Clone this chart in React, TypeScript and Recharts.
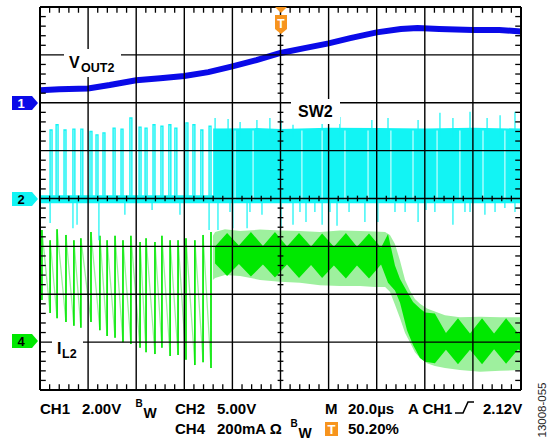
import React from "react";
import { ComposedChart, Line, Area, XAxis, YAxis, ReferenceLine } from "recharts";

// x: time in µs (20 µs/div, trigger at centre); y: graticule divisions (0 = bottom, 8 = top)
const timeDomain: [number, number] = [-100, 100];
const divDomain: [number, number] = [0, 8];

// ---------- CH1 : VOUT2 ----------
const voutTime = [-100, -92, -80, -71, -60, -50, -40, -30, -20, -10, 0, 10, 20, 29, 40, 50, 57, 66, 80, 91, 100];
const voutLevel = [6.26, 6.28, 6.3, 6.37, 6.47, 6.51, 6.56, 6.64, 6.76, 6.89, 7.04, 7.14, 7.24, 7.35, 7.47, 7.54, 7.56, 7.54, 7.52, 7.52, 7.49];

// ---------- CH2 : SW2 ----------
const swBase = 4.0;
const swBandTime = [-100, 100];
const swBandLow = [3.9, 3.9];
const swBandHigh = [4.07, 4.07];
// discrete switching pulses (PFM region)
const swPulseTime = [-95.8, -93.3, -90.0, -86.3, -83.0, -79.2, -76.7, -73.8, -69.6, -66.3, -62.6, -58.8, -56.3, -53.0, -49.7, -46.4, -43.9, -39.3, -36.4, -33.1, -29.7];
const swPulseTop = [5.43, 5.54, 5.43, 5.45, 5.45, 5.4, 5.33, 5.37, 5.47, 5.45, 5.68, 5.49, 5.47, 5.54, 5.51, 5.54, 5.47, 5.58, 5.54, 5.43, 5.51];
const swPulseWidth = 0.8;
// continuous switching region (PWM)
const swDenseTime = [-28, -10, 0, 20, 40, 60, 80, 100];
const swDenseTop = [5.46, 5.47, 5.45, 5.48, 5.47, 5.46, 5.48, 5.46];
const swSpikeUpTime = [-27.2, -21.8, -16.8, -9.8, -4.4, 0.2, 5.2, 17.3, 24.7, 38.0, 44.7, 57.2, 66.3, 71.7, 78.8, 85.9, 91.3, 97.5];
const swSpikeUpTop = [5.68, 5.66, 5.6, 5.64, 5.68, 5.64, 5.54, 5.6, 5.7, 5.64, 5.68, 5.64, 5.79, 5.68, 5.81, 5.68, 5.74, 5.81];
const swSpikeDownTime = [-95.8, -86.3, -84.6, -75.5, -64.7, -53.4, -41.8, -29.7, -26.0, -21.0, -19.8, -13.9, -12.7, -7.7, 0.2, 5.2, 8.1, 10.6, 14.3, 17.3, 20.6, 23.5, 28.5, 35.1, 40.5, 47.6, 51.8, 57.2, 60.5, 64.2, 71.7, 76.7, 78.8, 85.0, 89.2, 93.3, 97.5];
const swSpikeDownBottom = [3.49, 3.38, 3.45, 3.13, 3.66, 3.76, 3.66, 3.34, 3.34, 3.72, 3.38, 3.38, 3.72, 3.66, 3.38, 3.45, 3.72, 3.51, 3.72, 3.45, 3.72, 3.43, 3.72, 3.51, 3.51, 3.72, 3.72, 3.51, 3.76, 3.72, 3.45, 3.72, 3.72, 3.66, 3.72, 3.8, 3.72];
const swGapTime = [-18.9, -11.4, 8.9, 17.3, 26.8, 36.4, 45.9, 55.1, 65.1, 74.6, 84.2, 93.3];
const swGapLow = 3.98;
const swGapHigh = 5.42;

// ---------- CH4 : IL2 ----------
// sawtooth pulses in the PFM region
const ilPulseTime = [-99.2, -95.8, -92.9, -89.2, -85.9, -83.0, -78.8, -75.1, -72.1, -68.8, -65.5, -62.2, -58.4, -55.9, -52.2, -49.3, -45.9, -42.6, -39.3, -35.6, -32.2, -28.9];
const ilPulseTop = [3.34, 3.13, 3.36, 3.24, 3.13, 3.17, 3.3, 3.22, 3.13, 3.22, 3.13, 3.22, 3.09, 3.17, 3.09, 3.22, 3.13, 3.13, 3.17, 3.13, 3.24, 3.3];
const ilPulseLow = [1.88, 1.61, 1.5, 1.42, 1.34, 1.3, 1.42, 1.25, 1.13, 1.09, 1.0, 0.96, 0.88, 0.79, 0.75, 0.88, 0.71, 0.73, 0.63, 0.52, 0.58, 0.46];
// ripple envelope in the PWM region
const ilEnvTime = [-28.1, -27.2, -23.1, -16.8, -8.5, -0.2, 8.1, 16.4, 24.7, 33.1, 39.3, 43.5, 45.5, 47.6, 49.7, 51.8, 53.8, 55.9, 58.0, 60.9, 64.2, 68.4, 74.6, 83.0, 91.3, 100];
const ilEnvLow = [2.3, 2.34, 2.4, 2.38, 2.3, 2.26, 2.24, 2.19, 2.17, 2.17, 2.15, 2.15, 2.05, 1.78, 1.5, 1.19, 1.0, 0.79, 0.67, 0.56, 0.5, 0.46, 0.42, 0.38, 0.4, 0.42];
const ilEnvHigh = [3.22, 3.3, 3.36, 3.32, 3.35, 3.33, 3.32, 3.3, 3.33, 3.32, 3.31, 3.3, 3.24, 3.05, 2.7, 2.3, 2.08, 1.9, 1.8, 1.7, 1.64, 1.56, 1.52, 1.53, 1.52, 1.52];
// dense beat pattern core
const ilCoreTime = [-27.2, -22.2, -17.3, -12.3, -7.3, -2.3, 2.7, 7.7, 12.7, 17.3, 22.2, 27.2, 31.8, 36.8, 41.8, 44.7, 47.6, 49.7, 52.6, 55.1, 58.0, 60.1, 64.2, 68.8, 73.8, 78.8, 83.8, 88.8, 93.8, 98.8, 100];
const ilCoreLow = [2.64, 2.38, 2.63, 2.37, 2.62, 2.35, 2.62, 2.34, 2.61, 2.34, 2.6, 2.33, 2.6, 2.33, 2.62, 2.24, 2.08, 1.82, 1.25, 0.94, 0.67, 0.59, 0.56, 0.84, 0.54, 0.84, 0.54, 0.85, 0.55, 0.85, 0.8];
const ilCoreHigh = [3.0, 3.28, 3.02, 3.3, 3.01, 3.3, 3.0, 3.28, 3.0, 3.27, 2.99, 3.28, 2.99, 3.27, 2.97, 3.26, 2.6, 2.32, 2.06, 1.84, 1.7, 1.62, 1.6, 1.19, 1.5, 1.18, 1.5, 1.18, 1.5, 1.18, 1.22];

// ---------- data tables for the library ----------
const voutData = voutTime.map((t, i) => ({ t, y: voutLevel[i] }));
const swBandData = swBandTime.map((t, i) => ({ t, v: [swBandLow[i], swBandHigh[i]] }));
const swPulseData = [
  { t: -100, y: swBase },
  ...swPulseTime.flatMap((t, i) => [
    { t, y: swBase },
    { t, y: swPulseTop[i] },
    { t: t + swPulseWidth, y: swPulseTop[i] },
    { t: t + swPulseWidth, y: swBase },
  ]),
  { t: -28, y: swBase },
];
const swDenseData = swDenseTime.map((t, i) => ({ t, v: [swBase - 0.08, swDenseTop[i]] }));
const segs = (ts: number[], a: number[] | number, b: number[] | number) =>
  ts.flatMap((t, i) => [
    { t, y: Array.isArray(a) ? a[i] : a },
    { t, y: Array.isArray(b) ? b[i] : b },
    { t, y: null as number | null },
  ]);
const swUpData = segs(swSpikeUpTime, swBase + 1.3, swSpikeUpTop);
const swDownData = segs(swSpikeDownTime, swBase, swSpikeDownBottom);
const swGapData = segs(swGapTime, swGapLow, swGapHigh);
const ilSawData = ilPulseTime.flatMap((t, i) => [
  { t, y: ilPulseLow[i] },
  { t, y: ilPulseTop[i] },
]);
const ilEdgeData = segs(ilPulseTime, ilPulseLow, ilPulseTop);
const ilEnvData = ilEnvTime.map((t, i) => ({ t, v: [ilEnvLow[i], ilEnvHigh[i]] }));
const ilCoreData = ilCoreTime.map((t, i) => ({ t, v: [ilCoreLow[i], ilCoreHigh[i]] }));

// graticule
const majorX = [-80, -60, -40, -20, 0, 20, 40, 60, 80];
const majorY = [1, 2, 3, 4, 5, 6, 7];
const minorX: number[] = [];
for (let t = -96; t < 100; t += 4) if (t % 20 !== 0) minorX.push(t);
const minorY: number[] = [];
for (let k = 1; k < 40; k++) if (k % 5 !== 0) minorY.push(+(k * 0.2).toFixed(2));

const BLUE = "#0a0ae8";
const CYAN = "#12f4f4";
const GREEN = "#00e800";
const LGREEN = "#9ef09e";
const ORANGE = "#f7941d";
const FONT = "'Liberation Sans', Arial, Helvetica, sans-serif";

export default function App() {
  const tk = { stroke: "#000", strokeWidth: 1.3 };
  return (
    <div style={{ position: "absolute", left: 0, top: 0, width: 553, height: 442, background: "#fff" }}>
      <ComposedChart width={553} height={442} margin={{ top: 7, right: 32, bottom: 52, left: 40 }}>
        <XAxis type="number" dataKey="t" domain={timeDomain} hide allowDataOverflow />
        <YAxis type="number" domain={divDomain} hide allowDataOverflow />

        <Area data={ilEnvData} dataKey="v" type="linear" stroke="none" fill={LGREEN} fillOpacity={1} isAnimationActive={false} activeDot={false} />
        <Area data={ilCoreData} dataKey="v" type="linear" stroke="none" fill={GREEN} fillOpacity={1} isAnimationActive={false} activeDot={false} />
        <Area data={swBandData} dataKey="v" type="linear" stroke="none" fill={CYAN} fillOpacity={1} isAnimationActive={false} activeDot={false} />
        <Area data={swDenseData} dataKey="v" type="linear" stroke="none" fill={CYAN} fillOpacity={1} isAnimationActive={false} activeDot={false} />

        <Line data={ilSawData} dataKey="y" type="linear" stroke={LGREEN} strokeWidth={1.3} dot={false} activeDot={false} isAnimationActive={false} />
        <Line data={ilEdgeData} dataKey="y" type="linear" stroke={GREEN} strokeWidth={1.6} dot={false} activeDot={false} isAnimationActive={false} />
        <Line data={swPulseData} dataKey="y" type="linear" stroke={CYAN} strokeWidth={1.4} dot={false} activeDot={false} isAnimationActive={false} />
        <Line data={swUpData} dataKey="y" type="linear" stroke={CYAN} strokeWidth={1.2} dot={false} activeDot={false} isAnimationActive={false} />
        <Line data={swDownData} dataKey="y" type="linear" stroke={CYAN} strokeWidth={1.2} dot={false} activeDot={false} isAnimationActive={false} />
        <Line data={swGapData} dataKey="y" type="linear" stroke="#c8ffff" strokeWidth={1.2} dot={false} activeDot={false} isAnimationActive={false} />
        <Line data={voutData} dataKey="y" type="linear" stroke={BLUE} strokeWidth={6} dot={false} activeDot={false} isAnimationActive={false} />

        {majorX.map((x) => (
          <ReferenceLine key={"gx" + x} x={x} stroke="#000" strokeWidth={1.4} />
        ))}
        {majorY.map((y) => (
          <ReferenceLine key={"gy" + y} y={y} stroke="#000" strokeWidth={1.4} />
        ))}
        <ReferenceLine x={-100} stroke="#000" strokeWidth={2} />
        <ReferenceLine x={100} stroke="#000" strokeWidth={2} />
        <ReferenceLine y={0} stroke="#000" strokeWidth={2} />
        <ReferenceLine y={8} stroke="#000" strokeWidth={2} />
        {minorX.map((t) => (
          <ReferenceLine key={"tt" + t} segment={[{ x: t, y: 8 }, { x: t, y: 7.88 }]} {...tk} />
        ))}
        {minorX.map((t) => (
          <ReferenceLine key={"tb" + t} segment={[{ x: t, y: 0 }, { x: t, y: 0.12 }]} {...tk} />
        ))}
        {minorX.map((t) => (
          <ReferenceLine key={"tc" + t} segment={[{ x: t, y: 3.94 }, { x: t, y: 4.06 }]} {...tk} />
        ))}
        {minorY.map((y) => (
          <ReferenceLine key={"tl" + y} segment={[{ x: -100, y }, { x: -97.6, y }]} {...tk} />
        ))}
        {minorY.map((y) => (
          <ReferenceLine key={"tr" + y} segment={[{ x: 100, y }, { x: 97.6, y }]} {...tk} />
        ))}
        {minorY.map((y) => (
          <ReferenceLine key={"tv" + y} segment={[{ x: -1.2, y }, { x: 1.2, y }]} {...tk} />
        ))}
      </ComposedChart>

      <svg width={553} height={442} style={{ position: "absolute", left: 0, top: 0, pointerEvents: "none" }} fontFamily={FONT} fontWeight="bold">
        {/* trace labels */}
        <rect x={64} y={49} width={57} height={28} fill="#fff" />
        <text x={69} y={68} fontSize={16}>V</text>
        <text x={81} y={72} fontSize={12.5}>OUT2</text>
        <rect x={291} y={99} width={49} height={25} fill="#fff" />
        <text x={298} y={117} fontSize={16}>SW2</text>
        <rect x={52} y={336} width={31} height={25} fill="#fff" />
        <text x={57} y={354} fontSize={16}>I</text>
        <text x={62} y={357.5} fontSize={12.5}>L2</text>

        {/* channel markers */}
        <polygon points="12,96 32,96 38,103 32,110 12,110" fill={BLUE} />
        <text x={21} y={108} fontSize={13} fill="#fff" textAnchor="middle">1</text>
        <polygon points="12,192 32,192 38,199 32,206 12,206" fill={CYAN} />
        <text x={21} y={204} fontSize={13} fill="#000" textAnchor="middle">2</text>
        <polygon points="12,334 32,334 38,341 32,348 12,348" fill={GREEN} />
        <text x={21} y={346} fontSize={13} fill="#000" textAnchor="middle">4</text>

        {/* trigger marker */}
        <polygon points="275,7 287,7 281,13" fill={ORANGE} />
        <path d="M275,15 L287,15 L287,29 L281,34 L275,29 Z" fill={ORANGE} />
        <text x={281} y={28} fontSize={12} fill="#fff" textAnchor="middle">T</text>

        {/* readout */}
        <g fontSize={15} fill="#000">
          <text x={40} y={414}>CH1</text>
          <text x={82} y={414}>2.00V</text>
          <text x={135.5} y={406.5} fontSize={10}>B</text>
          <text x={143.5} y={418} fontSize={14}>W</text>
          <text x={175} y={414}>CH2</text>
          <text x={217} y={414}>5.00V</text>
          <text x={325} y={414}>M</text>
          <text x={348} y={414}>20.0µs</text>
          <text x={408} y={414}>A CH1</text>
          <text x={483} y={414}>2.12V</text>
          <text x={175} y={434}>CH4</text>
          <text x={217} y={434}>200mA Ω</text>
          <text x={290.5} y={426.5} fontSize={10}>B</text>
          <text x={298.5} y={438} fontSize={14}>W</text>
          <text x={348} y={434}>50.20%</text>
        </g>
        <path d="M455,413 L463,413 L468,402 L474,402" stroke="#000" strokeWidth={1.6} fill="none" />
        <rect x={325} y={422} width={13} height={14} fill={ORANGE} />
        <text x={331.5} y={434} fontSize={13} fill="#fff" textAnchor="middle">T</text>
        <text x={546} y={410} fontSize={11.5} fontWeight="normal" fill="#222" textAnchor="middle" transform="rotate(-90 546 410)">13008-055</text>
      </svg>
    </div>
  );
}
